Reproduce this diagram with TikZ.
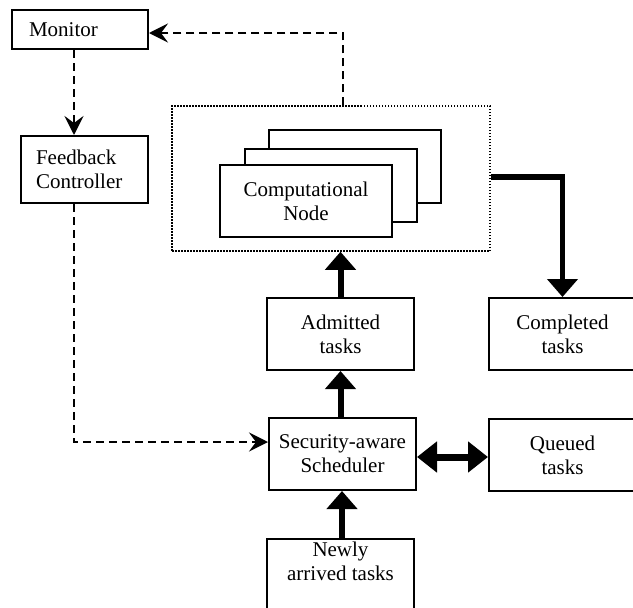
\documentclass[tikz,border=0pt]{standalone}
\usepackage{fontspec}
\setmainfont{Liberation Serif}
\usetikzlibrary{arrows.meta,calc}
\begin{document}
\begin{tikzpicture}[x=1pt,y=-1pt,
  font=\fontsize{21}{24}\selectfont,
  box/.style={draw, line width=2pt, rectangle, inner sep=0pt, align=center, fill=white},
  dashline/.style={line width=2pt, dash pattern=on 8pt off 5pt, -{Stealth[length=19pt,width=19pt,inset=7pt]}},
  thick arrow/.style={line width=6pt, -{Triangle[length=18pt,width=30pt]}},
  dbl arrow/.style={line width=7pt, {Triangle[length=20pt,width=30pt]}-{Triangle[length=20pt,width=30pt]}}
]
\useasboundingbox (0,0) rectangle (633,608);

% Monitor
\node[box, minimum width=136pt, minimum height=39pt, text width=102pt, align=left] (monitor) at (80,29.5) {Monitor};
% Feedback controller
\node[box, minimum width=127pt, minimum height=67pt, text width=97pt, align=left] (feedback) at (84.5,169.5) {Feedback\\Controller};

% Cluster (dotted)
\node[draw, line width=1.5pt, dash pattern=on 1.5pt off 1.5pt, minimum width=318pt, minimum height=145pt, inner sep=0pt] (cluster) at (331,178.5) {};
% stacked computational nodes
\node[box, minimum width=172pt, minimum height=73pt] (compc) at (355,166.5) {};
\node[box, minimum width=172pt, minimum height=73pt] (compb) at (331,185.5) {};
\node[box, minimum width=172pt, minimum height=72pt] (comp) at (306,201) {Computational\\Node};

% Admitted, Completed
\node[box, minimum width=147pt, minimum height=72pt] (admitted) at (340.5,334) {Admitted\\tasks};
\node[box, minimum width=147pt, minimum height=72pt] (completed) at (562.5,334) {Completed\\tasks};

% Scheduler, Queued
\node[box, minimum width=147pt, minimum height=72pt] (sched) at (342.5,454) {Security-aware\\Scheduler};
\node[box, minimum width=147pt, minimum height=72pt] (queued) at (562.5,455) {Queued\\tasks};

% Newly arrived
\node[box, minimum width=147pt, minimum height=90pt, anchor=north] (newly) at (340.5,538) {};
\node[align=center, inner sep=0pt, anchor=north] (newlytxt) at ([yshift=-4pt]newly.north) {Newly\\arrived tasks};

% dashed connectors
\draw[dashline] ([xshift=12pt]cluster.north) |- ([yshift=-3.5pt]monitor.east);
\draw[dashline] ([xshift=-6pt]monitor.south) -- ([xshift=-6pt]monitor.south |- feedback.north);
\draw[dashline] ([xshift=-10.5pt]feedback.south) |- ([yshift=12pt]sched.west);

% thick connectors
\draw[thick arrow] (admitted.north) -- (admitted.north |- cluster.south);
\draw[thick arrow] (admitted.south |- sched.north) -- (admitted.south);
\draw[thick arrow] ([xshift=1.5pt]newly.north) -- ([xshift=1.5pt]newly.north |- sched.south);
\draw[thick arrow, line width=5.5pt, line join=miter] ([yshift=1.5pt]cluster.east) -| (completed.north);
\draw[dbl arrow] ([yshift=-3pt]sched.east) -- ([yshift=-3pt]sched.east -| queued.west);
\end{tikzpicture}
\end{document}
